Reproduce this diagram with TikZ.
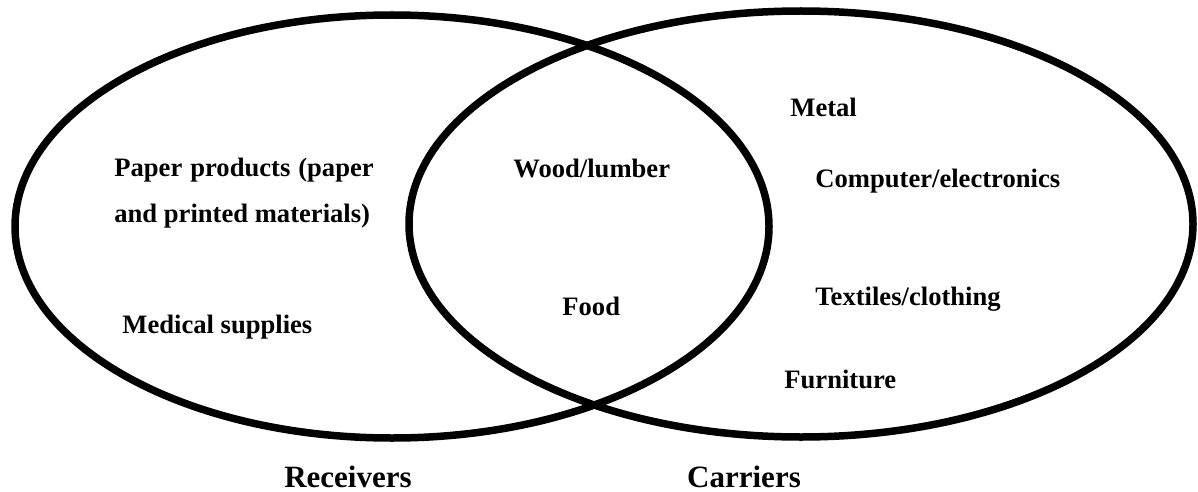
\documentclass[tikz,border=0pt]{standalone}
\usepackage{fontspec}
\setmainfont{Liberation Serif}
\begin{document}
\begin{tikzpicture}[x=0.5pt, y=-0.5pt,
    item/.style={anchor=base west, inner sep=0pt, font=\fontsize{13.3}{16}\selectfont\bfseries},
    setname/.style={anchor=base, inner sep=0pt, font=\fontsize{15.5}{18}\selectfont\bfseries}]
    \useasboundingbox (0,0) rectangle (1198,492);
    % Receivers
    \draw[line width=3.75pt] (392,226.5) ellipse [x radius=188.5pt, y radius=105.75pt];
    % Carriers
    \draw[line width=3.75pt] (801,224) ellipse [x radius=196pt, y radius=106.5pt];
    % receivers only
    \node[item] (paper) at (114,176) {Paper\hspace{0.3em}products\hspace{0.3em}(paper};
    \node[item] (printed) at (114,222) {and printed materials)};
    \node[item] (medical) at (122,333) {Medical supplies};
    % both
    \node[item] (wood) at (513,177) {Wood/lumber};
    \node[item] (food) at (562,315) {Food};
    % carriers only
    \node[item] (metal) at (790,117) {Metal};
    \node[item] (computer) at (815,187) {Computer/electronics};
    \node[item] (textiles) at (815,305) {Textiles/clothing};
    \node[item] (furniture) at (784,388) {Furniture};
    % set names
    \node[setname] (receivers) at (348,487) {Receivers};
    \node[setname] (carriers) at (744,487) {Carriers};
\end{tikzpicture}
\end{document}
